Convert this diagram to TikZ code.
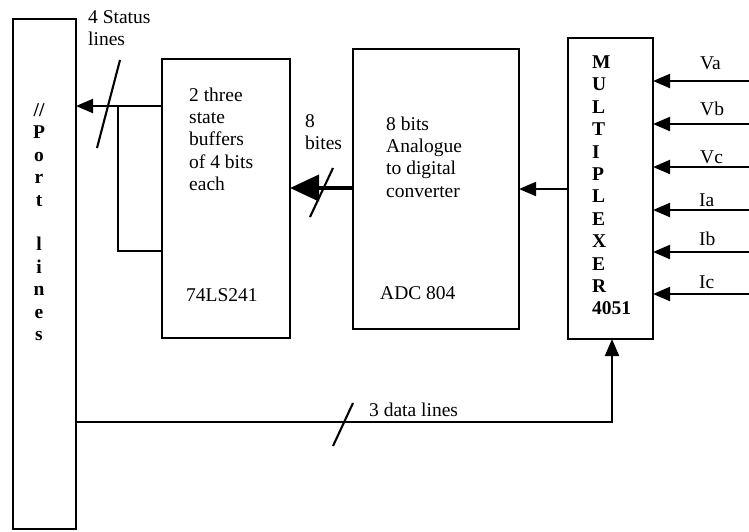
\documentclass[tikz,border=0pt]{standalone}
\usepackage{fontspec}
\setmainfont{Liberation Serif}
\usetikzlibrary{arrows.meta}

\tikzset{
  blk/.style={draw, line width=2.1pt, inner sep=0pt, outer sep=0pt, anchor=north west},
  lbl/.style={inner sep=0pt, anchor=north west, align=left, font=\fontsize{19.5}{22.3}\selectfont},
  vlbl/.style={lbl, font=\fontsize{19.5}{22.4}\selectfont\bfseries},
  wire/.style={line width=2.1pt},
  arr/.style={wire, -{Triangle[length=17pt,width=14pt]}},
  bus/.style={line width=4pt, -{Triangle[length=29pt,width=26pt]}},
}

\begin{document}
\begin{tikzpicture}[x=1pt, y=-1pt]
\useasboundingbox (0,0) rectangle (749,531);

% blocks
\node[blk, minimum width=63pt, minimum height=510pt] (port) at (13,19) {};
\node[blk, minimum width=128pt, minimum height=279pt] (buf) at (162,59) {};
\node[blk, minimum width=166pt, minimum height=280pt] (adc) at (353,49) {};
\node[blk, minimum width=85pt, minimum height=301pt] (mux) at (568,38) {};

% block texts
\node[vlbl, anchor=north, align=center] (porttxt) at (39,103.5) {//\\P\\o\\r\\t\\\mbox{}\\l\\i\\n\\e\\s};
\node[lbl] (buftxt) at (189,87.5) {2 three\\state\\buffers\\of 4 bits\\each};
\node[lbl] (bufname) at (186,288.5) {74LS241};
\node[lbl] (adctxt) at (386,116.5) {8 bits\\Analogue\\to digital\\converter};
\node[lbl] (adcname) at (380,286.5) {ADC 804};
\node[vlbl] (muxtxt) at (592,55.5) {M\\U\\L\\T\\I\\P\\L\\E\\X\\E\\R\\4051};

% line labels
\node[lbl] (statuslbl) at (88,10.5) {4 Status\\lines};
\node[lbl] (bitslbl) at (305,114.5) {8\\bites};
\node[lbl] (datalbl) at (369,402.5) {3 data lines};
\node[lbl] (valbl) at (700,56.5) {Va};
\node[lbl] (vblbl) at (700,101.5) {Vb};
\node[lbl] (vclbl) at (700,150.5) {Vc};
\node[lbl] (ialbl) at (699,193.5) {Ia};
\node[lbl] (iblbl) at (699,231.5) {Ib};
\node[lbl] (iclbl) at (699,275.5) {Ic};

% status lines
\coordinate (st) at (118,106);
\coordinate (fb) at (118,251);
\draw[arr] (buf.west |- st) -- (port.east |- st);
\draw[wire] (st) -- (fb) -- (buf.west |- fb);
\draw[wire] (97,148) -- (120,60);

% 8 bit bus
\coordinate (bt) at (320,188);
\draw[bus] (adc.west |- bt) -- (buf.east |- bt);
\draw[wire] (310,217) -- (333,168);

% mux to adc
\coordinate (ma) at (540,189);
\draw[arr] (mux.west |- ma) -- (adc.east |- ma);

% data lines
\coordinate (dl) at (612,422);
\draw[arr] (port.east |- dl) -- (dl) -- (mux.south -| dl);
\draw[wire] (333,446) -- (353,403);

% inputs
\coordinate (va) at (749,81);
\coordinate (vb) at (749,124);
\coordinate (vc) at (749,167);
\coordinate (ia) at (749,210);
\coordinate (ib) at (749,252);
\coordinate (ic) at (749,294);
\draw[arr] (va) -- (mux.east |- va);
\draw[arr] (vb) -- (mux.east |- vb);
\draw[arr] (vc) -- (mux.east |- vc);
\draw[arr] (ia) -- (mux.east |- ia);
\draw[arr] (ib) -- (mux.east |- ib);
\draw[arr] (ic) -- (mux.east |- ic);
\end{tikzpicture}
\end{document}
